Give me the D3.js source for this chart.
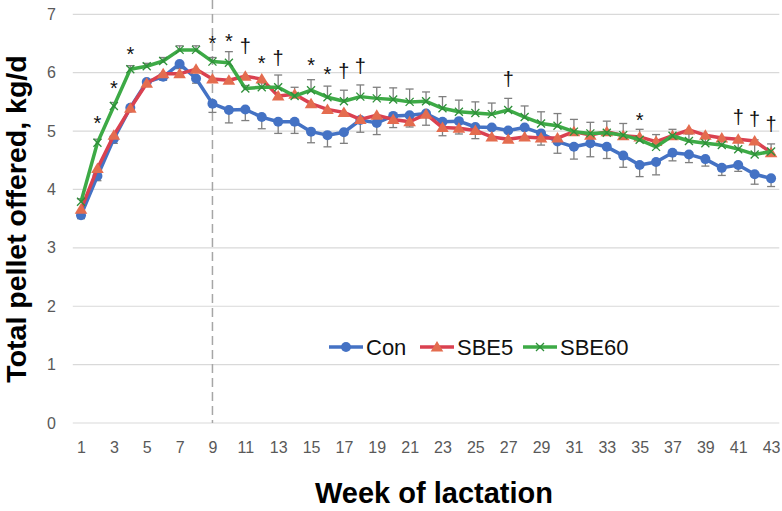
<!DOCTYPE html>
<html><head><meta charset="utf-8">
<script src="https://cdn.jsdelivr.net/npm/d3@7"></script>
<style>body{margin:0;background:#fff}svg{display:block}</style>
</head><body>
<svg id="chart" width="782" height="511"></svg>
<script>
const weeks = d3.range(1, 44);
const tickWeeks = weeks.filter(w => w % 2 === 1);
const yTicks = [0,1,2,3,4,5,6,7];
const seriesNames = ["Con", "SBE5", "SBE60"];
const conValues = [3.56,4.23,4.87,5.40,5.84,5.93,6.15,5.90,5.47,5.36,5.37,5.24,5.16,5.16,4.99,4.93,4.98,5.19,5.14,5.26,5.27,5.30,5.16,5.17,5.07,5.06,5.01,5.06,4.96,4.82,4.73,4.79,4.73,4.58,4.42,4.47,4.63,4.60,4.52,4.37,4.42,4.26,4.19];
const sbe5Values = [3.66,4.36,4.93,5.39,5.82,5.98,5.98,6.06,5.89,5.87,5.94,5.89,5.60,5.63,5.47,5.37,5.32,5.20,5.27,5.20,5.16,5.29,5.06,5.05,5.01,4.90,4.86,4.90,4.88,4.88,4.99,4.93,4.99,4.92,4.90,4.82,4.92,5.02,4.93,4.88,4.86,4.83,4.63];
const sbe60Values = [3.79,4.80,5.43,6.06,6.11,6.20,6.39,6.39,6.19,6.17,5.73,5.75,5.75,5.60,5.70,5.58,5.51,5.59,5.56,5.54,5.50,5.51,5.39,5.33,5.31,5.29,5.36,5.24,5.13,5.09,4.99,4.96,4.97,4.93,4.85,4.73,4.92,4.83,4.79,4.76,4.69,4.60,4.65];
const conErrMinus = [0.06,0.08,0.08,0.05,0.05,0.06,0.08,0.08,0.15,0.22,0.19,0.20,0.20,0.20,0.19,0.20,0.19,0.21,0.20,0.20,0.20,0.20,0.24,0.22,0.20,0.20,0.20,0.20,0.20,0.20,0.21,0.23,0.20,0.20,0.20,0.22,0.14,0.14,0.12,0.13,0.11,0.17,0.14];
const sbe60ErrPlus = [0.05,0.06,0.06,0.06,0.05,0.06,0.07,0.07,0.07,0.19,0.05,0.08,0.21,0.15,0.18,0.19,0.19,0.20,0.19,0.20,0.22,0.16,0.20,0.20,0.19,0.19,0.20,0.19,0.20,0.21,0.21,0.19,0.20,0.20,0.18,0.21,0.11,0.12,0.12,0.12,0.13,0.25,0.13];
const sigWeeks = [2,3,4,9,10,11,12,13,15,16,17,18,27,35,41,42,43];
const sigSymbols = ["*","*","*","*","*","†","*","†","*","*","†","†","†","*","†","†","†"];
const sigLevels = [5.23,5.82,6.40,6.59,6.63,6.44,6.26,6.24,6.22,6.07,6.02,6.10,5.88,5.27,5.22,5.19,5.10];
const dividerWeek = 9;
const yTitle = "Total pellet offered, kg/d";
const xTitle = "Week of lactation";

const colors = {Con:"#4472C4", SBE5:"#DA4150", SBE60:"#3DAA46"};
const markerColors = {Con:"#4472C4", SBE5:"#E46C4F", SBE60:"#3DAA46"};
const font = "'Liberation Sans', Arial, sans-serif";

const svg = d3.select("#chart");
const x = d3.scalePoint().domain(weeks).range([72.8, 779.3]).padding(0.5);
const y = d3.scaleLinear().domain([0,7]).range([423, 14.3]);

// gridlines
svg.append("g").selectAll("line").data(yTicks).join("line")
  .attr("x1", 72.8).attr("x2", 779.3)
  .attr("y1", d => y(d)).attr("y2", d => y(d))
  .attr("stroke", "#d9d9d9").attr("stroke-width", 1.2);

// y axis labels
const yAxis = d3.axisLeft(y).tickValues(yTicks).tickFormat(d3.format("d")).tickSize(0).tickPadding(0);
const gy = svg.append("g").attr("transform", "translate(56,0)").call(yAxis);
gy.select(".domain").remove();
gy.selectAll("text").attr("font-family", font).attr("font-size", 16).attr("fill", "#595959");

// x axis labels
const xAxis = d3.axisBottom(x).tickValues(tickWeeks).tickSize(0).tickPadding(0);
const gx = svg.append("g").attr("transform", "translate(0,442)").call(xAxis);
gx.select(".domain").remove();
gx.selectAll("text").attr("font-family", font).attr("font-size", 16).attr("fill", "#595959");

// divider
svg.append("line").attr("x1", x(dividerWeek)).attr("x2", x(dividerWeek))
  .attr("y1", 0).attr("y2", 423)
  .attr("stroke", "#a6a6a6").attr("stroke-width", 1.5).attr("stroke-dasharray", "9,5");

const series = [
  {name:"Con", values: conValues},
  {name:"SBE5", values: sbe5Values},
  {name:"SBE60", values: sbe60Values}
];

const line = d3.line().x((d,i) => x(weeks[i])).y(d => y(d));

// error bars
function errBars(values, errs, sign) {
  const g = svg.append("g").attr("stroke", "#7f7f7f").attr("stroke-width", 1.3);
  weeks.forEach((w,i) => {
    const y0 = y(values[i]), y1 = y(values[i] + sign*errs[i]);
    g.append("line").attr("x1", x(w)).attr("x2", x(w)).attr("y1", y0).attr("y2", y1);
    g.append("line").attr("x1", x(w)-4).attr("x2", x(w)+4).attr("y1", y1).attr("y2", y1);
  });
}
errBars(conValues, conErrMinus, -1);
errBars(sbe60Values, sbe60ErrPlus, 1);

// lines and markers
series.forEach(s => {
  svg.append("path").datum(s.values).attr("d", line)
    .attr("fill", "none").attr("stroke", colors[s.name]).attr("stroke-width", 3.5)
    .attr("stroke-linejoin", "round");
  const g = svg.append("g");
  s.values.forEach((v,i) => drawMarker(g, s.name, x(weeks[i]), y(v), 1));
});

function drawMarker(g, name, cx, cy, k) {
  if (name === "Con") {
    g.append("circle").attr("cx", cx).attr("cy", cy).attr("r", 5*k).attr("fill", markerColors.Con);
  } else if (name === "SBE5") {
    const s = 6*k;
    g.append("path").attr("d", `M${cx},${cy-s}L${cx+s*1.05},${cy+s*0.75}L${cx-s*1.05},${cy+s*0.75}Z`)
      .attr("fill", markerColors.SBE5);
  } else {
    const s = 4*k;
    g.append("path").attr("d", `M${cx-s},${cy-s}L${cx+s},${cy+s}M${cx-s},${cy+s}L${cx+s},${cy-s}`)
      .attr("stroke", "#2f8f3a").attr("stroke-width", 1.3).attr("fill", "none");
  }
}

// significance symbols
const sigG = svg.append("g");
sigWeeks.forEach((w,i) => {
  const sym = sigSymbols[i];
  const off = sym === "*" ? 12 : 6;
  sigG.append("text").attr("x", x(w)).attr("y", y(sigLevels[i]) + off)
    .attr("text-anchor", "middle").attr("font-family", font).attr("font-size", 20)
    .attr("fill", "#111").text(sym);
});

// legend
const legendX = [329, 420, 523];
const legendG = svg.append("g");
series.forEach((s,i) => {
  const lx = legendX[i], ly = 347;
  legendG.append("line").attr("x1", lx).attr("x2", lx+34).attr("y1", ly).attr("y2", ly)
    .attr("stroke", colors[s.name]).attr("stroke-width", 3.5);
  drawMarker(legendG, s.name, lx+17, ly, 1);
  legendG.append("text").attr("x", lx+37).attr("y", ly+8)
    .attr("font-family", font).attr("font-size", 22).attr("fill", "#111").text(s.name);
});

// titles
svg.append("text").attr("x", 434).attr("y", 503).attr("text-anchor", "middle")
  .attr("font-family", font).attr("font-weight", "bold").attr("font-size", 29)
  .attr("fill", "#000").text(xTitle);
svg.append("text").attr("transform", "translate(26,219) rotate(-90)").attr("text-anchor", "middle")
  .attr("font-family", font).attr("font-weight", "bold").attr("font-size", 28.5)
  .attr("fill", "#000").text(yTitle);
</script>
</body></html>
